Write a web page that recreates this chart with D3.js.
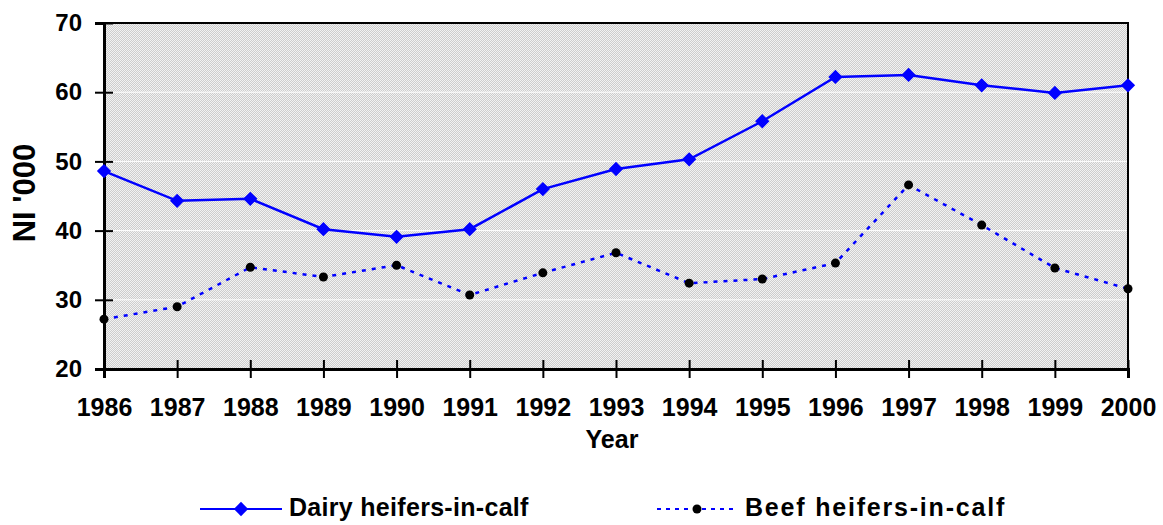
<!DOCTYPE html>
<html>
<head>
<meta charset="utf-8">
<script src="https://cdn.jsdelivr.net/npm/d3@7"></script>
<style>
  body { margin: 0; background: #fff; }
  text { font-family: "Liberation Sans", Arial, sans-serif; font-weight: bold; fill: #000; }
</style>
</head>
<body>
<div id="chart"></div>
<script>
const years = [1986, 1987, 1988, 1989, 1990, 1991, 1992, 1993, 1994, 1995, 1996, 1997, 1998, 1999, 2000];
const dairy = [48.6, 44.3, 44.6, 40.2, 39.1, 40.2, 46.0, 48.9, 50.3, 55.8, 62.2, 62.5, 61.0, 59.9, 61.0];
const beef = [27.2, 29.0, 34.7, 33.3, 35.0, 30.7, 33.9, 36.8, 32.4, 33.0, 35.3, 46.6, 40.8, 34.6, 31.6];
const yTicks = [20, 30, 40, 50, 60, 70];
const seriesNames = ["Dairy heifers-in-calf", "Beef heifers-in-calf"];

const W = 1163, H = 525;
const margin = { top: 23, right: 35, bottom: 156, left: 104 };
const width = W - margin.left - margin.right;
const height = H - margin.top - margin.bottom;

const svg = d3.select('#chart')
    .append('svg')
    .attr('width', W)
    .attr('height', H);

// dotted grey fill like the original plot area
const defs = svg.append('defs');
const pat = defs.append('pattern')
    .attr('id', 'dots')
    .attr('width', 2)
    .attr('height', 2)
    .attr('patternUnits', 'userSpaceOnUse');
pat.append('rect').attr('width', 2).attr('height', 2).attr('fill', '#f2f2f2');
pat.append('rect').attr('width', 1).attr('height', 1).attr('fill', '#cdcdcd');
pat.append('rect').attr('x', 1).attr('y', 1).attr('width', 1).attr('height', 1).attr('fill', '#cdcdcd');

const g = svg.append('g')
    .attr('transform', `translate(${margin.left},${margin.top})`);

// scales
const x = d3.scaleLinear()
    .domain([years[0], years[years.length - 1]])
    .range([0, width]);

const y = d3.scaleLinear()
    .domain([20, 70])
    .range([height, 0]);

g.append('rect')
    .attr('width', width)
    .attr('height', height)
    .attr('fill', 'url(#dots)');

// white gridlines
g.append('g')
    .selectAll('line')
    .data(yTicks.slice(1, -1))
    .join('line')
    .attr('x1', 0)
    .attr('x2', width)
    .attr('y1', d => y(d))
    .attr('y2', d => y(d))
    .attr('stroke', '#fff')
    .attr('stroke-width', 1);

// border
g.append('rect')
    .attr('width', width)
    .attr('height', height)
    .attr('fill', 'none')
    .attr('stroke', '#000')
    .attr('stroke-width', 2);

// axes (ticks cross the axis line)
const yAxis = d3.axisLeft(y).tickValues(yTicks).tickSize(9).tickPadding(13);
const xAxis = d3.axisBottom(x).tickValues(years).tickFormat(d3.format('d')).tickSize(9).tickPadding(20);

const ya = g.append('g').call(yAxis);
ya.select('.domain').attr('stroke-width', 3);
ya.selectAll('.tick line').attr('x1', 9).attr('stroke-width', 2);
ya.selectAll('.tick text').style('font-size', '24px');

const xa = g.append('g')
    .attr('transform', `translate(0,${height})`)
    .call(xAxis);
xa.select('.domain').attr('stroke-width', 3);
xa.selectAll('.tick line').attr('y1', -9).attr('stroke-width', 2);
xa.selectAll('.tick text').style('font-size', '25px');

// axis titles
svg.append('text')
    .attr('transform', `translate(35,193) rotate(-90)`)
    .attr('text-anchor', 'middle')
    .style('font-size', '31px')
    .text("NI '000");

svg.append('text')
    .attr('x', 612)
    .attr('y', 448)
    .attr('text-anchor', 'middle')
    .style('font-size', '25px')
    .text('Year');

// lines
const line = d3.line()
    .x((d, i) => x(years[i]))
    .y(d => y(d));

g.append('path')
    .datum(dairy)
    .attr('d', line)
    .attr('fill', 'none')
    .attr('stroke', '#0000ff')
    .attr('stroke-width', 2.5);

g.append('path')
    .datum(beef)
    .attr('d', line)
    .attr('fill', 'none')
    .attr('stroke', '#0000ff')
    .attr('stroke-width', 2.5)
    .attr('stroke-dasharray', '4,6');

const diamond = d3.symbol().type(d3.symbolDiamond2).size(130);

g.append('g')
    .selectAll('path')
    .data(dairy)
    .join('path')
    .attr('d', diamond)
    .attr('transform', (d, i) => `translate(${x(years[i])},${y(d)})`)
    .attr('fill', '#0000ff');

g.append('g')
    .selectAll('circle')
    .data(beef)
    .join('circle')
    .attr('cx', (d, i) => x(years[i]))
    .attr('cy', d => y(d))
    .attr('r', 4.5)
    .attr('fill', '#000');

// legend
const leg = svg.append('g');
leg.append('line')
    .attr('x1', 200).attr('x2', 282)
    .attr('y1', 509).attr('y2', 509)
    .attr('stroke', '#0000ff').attr('stroke-width', 2);
leg.append('path')
    .attr('d', diamond)
    .attr('transform', 'translate(241,509)')
    .attr('fill', '#0000ff');
leg.append('text')
    .attr('x', 289).attr('y', 516)
    .style('font-size', '25px')
    .style('letter-spacing', '0.3px')
    .text(seriesNames[0]);

leg.append('line')
    .attr('x1', 657).attr('x2', 735)
    .attr('y1', 509).attr('y2', 509)
    .attr('stroke', '#0000ff').attr('stroke-width', 2)
    .attr('stroke-dasharray', '4,5');
leg.append('circle')
    .attr('cx', 697).attr('cy', 509).attr('r', 4.5)
    .attr('fill', '#000');
leg.append('text')
    .attr('x', 745).attr('y', 516)
    .style('font-size', '25px')
    .style('letter-spacing', '1.8px')
    .text(seriesNames[1]);
</script>
</body>
</html>
